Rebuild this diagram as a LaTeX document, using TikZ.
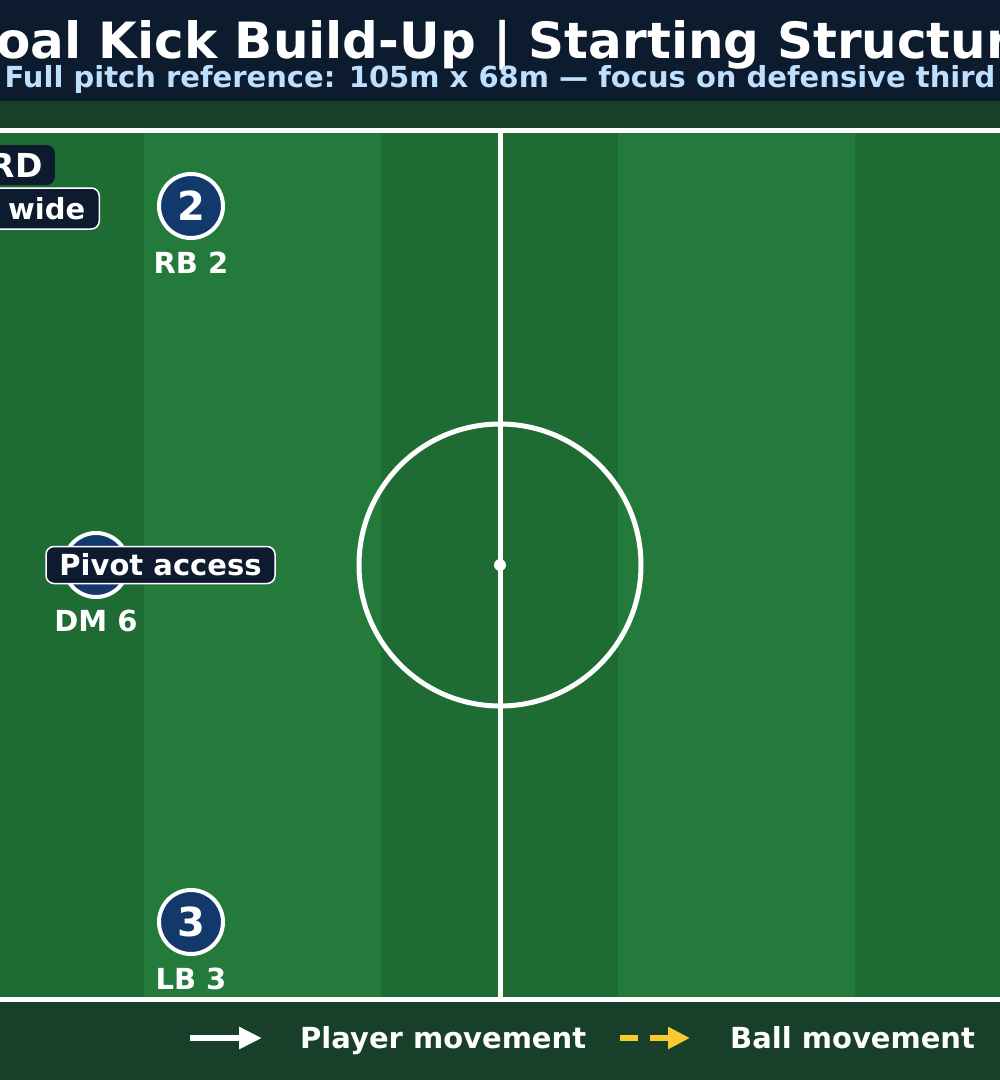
\documentclass[tikz,border=0pt]{standalone}
\usepackage{fontspec}
\setmainfont{DejaVu Sans}
\usetikzlibrary{arrows.meta}
\definecolor{headbg}{HTML}{0C1B2E}
\definecolor{bandbg}{HTML}{173F2A}
\definecolor{stripeD}{HTML}{1E6B33}
\definecolor{stripeL}{HTML}{237A3B}
\definecolor{playerfill}{HTML}{13386B}
\definecolor{calloutfill}{HTML}{0E1A2E}
\definecolor{subblue}{HTML}{BFDFFF}
\definecolor{ballyellow}{HTML}{F9CB2E}
\tikzset{
  pitchline/.style={draw=white,line width=5pt},
  player/.style={circle,fill=playerfill,draw=white,line width=4pt,minimum size=64pt,inner sep=0pt,
    text=white,font=\bfseries\fontsize{40}{42}\selectfont},
  plabel/.style={text=white,font=\bfseries\fontsize{29}{32}\selectfont,anchor=base,inner sep=0pt},
  callout/.style={rounded corners=8pt,fill=calloutfill,text=white,font=\bfseries\fontsize{29}{32}\selectfont,
    inner xsep=12pt,inner ysep=0pt,minimum height=37pt},
  legtext/.style={text=white,font=\bfseries\fontsize{29}{32}\selectfont,anchor=base west,inner sep=0pt}
}
\begin{document}
\begin{tikzpicture}[x=1pt,y=-1pt]
\useasboundingbox (0,0) rectangle (1000,1080);
% backgrounds
\fill[headbg] (0,0) rectangle (1000,101);
\fill[bandbg] (0,101) rectangle (1000,1080);
% stripes
\fill[stripeD] (0,130) rectangle (144,999);
\fill[stripeL] (144,130) rectangle (381,999);
\fill[stripeD] (381,130) rectangle (618,999);
\fill[stripeL] (618,130) rectangle (855,999);
\fill[stripeD] (855,130) rectangle (1000,999);
% pitch lines
\draw[pitchline] (0,130) -- (1000,130);
\draw[pitchline] (0,999) -- (1000,999);
\draw[pitchline] (500,130) -- (500,999);
\draw[pitchline,line width=5pt] (500,565) circle[radius=141];
\fill[white] (500,565) circle[radius=6];
% title
\node[anchor=base,inner sep=0pt,text=white,font=\bfseries\fontsize{50}{56}\selectfont] (title) at (500,58) {Goal Kick Build-Up | Starting Structure};
\node[anchor=base,inner sep=0pt,text=subblue,font=\bfseries\fontsize{29}{32}\selectfont] (subtitle) at (500,87) {Full pitch reference: 105m x 68m — focus on defensive third};
% players
\node[player] (rb) at (191,206) {2};
\node[plabel] (rbl) at (191,273) {RB 2};
\node[player] (dm) at (96,565) {6};
\node[plabel] (dml) at (96,631) {DM 6};
\node[player] (lb) at (191,922) {3};
\node[plabel] (lbl) at (191,989) {LB 3};
% callouts
\node[callout,draw=white,line width=1.5pt,minimum width=229pt] (pivot) at (160.5,565) {Pivot access};
\node[callout,anchor=east,minimum height=40pt,inner xsep=12pt,text width=100pt,align=right,
  font=\bfseries\fontsize{33}{36}\selectfont] (rd) at (55,165) {RD};
\node[callout,draw=white,line width=1.5pt,anchor=east,minimum height=41pt,inner xsep=14pt,
  text width=110pt,align=right] (wide) at (100,208.5) {wide};
% legend
\coordinate (pm1) at (190,1038);
\coordinate (pm2) at (262,1038);
\draw[white,line width=6pt,-{Triangle[length=23pt,width=21pt]}] (pm1) -- (pm2);
\node[legtext] (pmt) at (300,1048) {Player movement};
\coordinate (bm1) at (620,1038);
\coordinate (bm2) at (690,1038);
\draw[ballyellow,line width=6pt,dash pattern=on 18pt off 12pt,-{Triangle[length=22pt,width=21pt]}] (bm1) -- (bm2);
\node[legtext] (bmt) at (730,1048) {Ball movement};
\end{tikzpicture}
\end{document}
